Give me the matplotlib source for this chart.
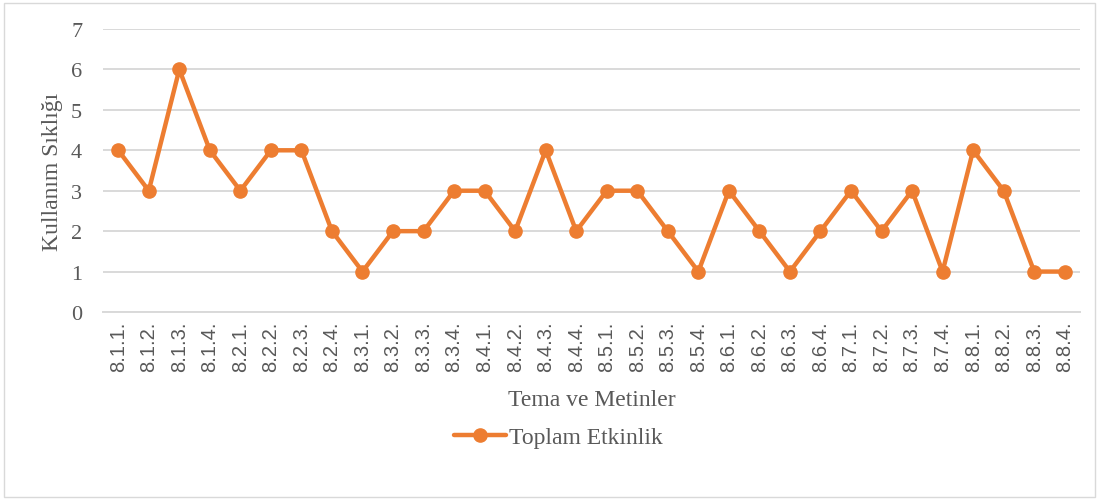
import matplotlib
matplotlib.use("Agg")
import matplotlib.pyplot as plt
from matplotlib.patches import Rectangle

categories = ["8.1.1.", "8.1.2.", "8.1.3.", "8.1.4.", "8.2.1.", "8.2.2.", "8.2.3.", "8.2.4.",
              "8.3.1.", "8.3.2.", "8.3.3.", "8.3.4.", "8.4.1.", "8.4.2.", "8.4.3.", "8.4.4.",
              "8.5.1.", "8.5.2.", "8.5.3.", "8.5.4.", "8.6.1.", "8.6.2.", "8.6.3.", "8.6.4.",
              "8.7.1.", "8.7.2.", "8.7.3.", "8.7.4.", "8.8.1.", "8.8.2.", "8.8.3.", "8.8.4."]
values = [4, 3, 6, 4, 3, 4, 4, 2,
          1, 2, 2, 3, 3, 2, 4, 2,
          3, 3, 2, 1, 3, 2, 1, 2,
          3, 2, 3, 1, 4, 3, 1, 1]
series_name = "Toplam Etkinlik"
yticks = [0, 1, 2, 3, 4, 5, 6, 7]

serif = ["Liberation Serif", "DejaVu Serif"]
sans = ["Liberation Sans", "DejaVu Sans"]
grey = "#595959"
orange = "#ED7D31"

fig = plt.figure(figsize=(10.99, 5.02), dpi=100)
fig.patches.append(Rectangle((0.004, 0.008), 0.992, 0.984, transform=fig.transFigure,
                             fill=False, edgecolor="#D9D9D9", linewidth=1.0))
ax = fig.add_axes([0.0937, 0.3765, 0.889, 0.5637])

x = list(range(len(categories)))
line, = ax.plot(x, values, color=orange, linewidth=3.2, marker="o", markersize=9.5,
                label=series_name, solid_capstyle="round", zorder=3)

ax.set_xlim(-0.5, len(categories) - 0.5)
ax.set_ylim(0, 7)
ax.set_yticks(yticks)
ax.set_yticklabels([str(v) for v in yticks], fontfamily=serif, fontsize=16, color=grey)
ax.set_xticks(x)
ax.set_xticklabels(categories, rotation=90, fontfamily=sans, fontsize=14.5, color=grey)
ax.tick_params(axis="both", length=0)
ax.tick_params(axis="y", pad=15)
ax.tick_params(axis="x", pad=6)

ax.grid(axis="y", color="#D9D9D9", linewidth=1.4, zorder=0)
ax.set_axisbelow(True)
for s in ["top", "right", "left"]:
    ax.spines[s].set_visible(False)
ax.spines["bottom"].set_color("#D9D9D9")
ax.spines["bottom"].set_linewidth(1.4)

ax.set_ylabel("Kullanım Sıklığı", fontfamily=serif, fontsize=17, color=grey, labelpad=6)
ax.set_xlabel("Tema ve Metinler", fontfamily=serif, fontsize=17, color=grey, labelpad=13)

leg = fig.legend(handles=[line], loc="center", bbox_to_anchor=(0.508, 0.127), frameon=False,
                 prop={"family": serif, "size": 17}, handlelength=2.2, handletextpad=0.1)
for t in leg.get_texts():
    t.set_color(grey)

fig.savefig("out.png", dpi=100)
